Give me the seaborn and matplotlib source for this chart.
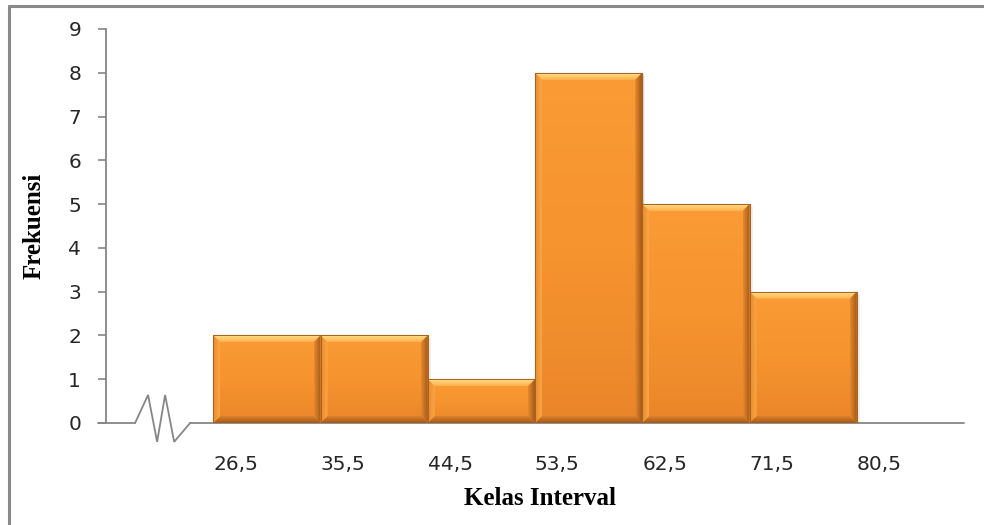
import numpy as np
import matplotlib
matplotlib.use("Agg")
import matplotlib.pyplot as plt
from matplotlib.patches import Polygon, Rectangle
from matplotlib.lines import Line2D
from matplotlib.colors import LinearSegmentedColormap
import seaborn as sns

# Frequency distribution by class interval
class_edges = [26.5, 35.5, 44.5, 53.5, 62.5, 71.5, 80.5]
edge_labels = ["26,5", "35,5", "44,5", "53,5", "62,5", "71,5", "80,5"]
frequencies = [2, 2, 1, 8, 5, 3]
y_ticks = [0, 1, 2, 3, 4, 5, 6, 7, 8, 9]

class_mids = [(a + b) / 2 for a, b in zip(class_edges[:-1], class_edges[1:])]

sns.set_theme(style="white")
plt.rcParams["font.family"] = ["DejaVu Sans"]

W, H = 984, 525
fig = plt.figure(figsize=(W / 100, H / 100), dpi=100)
ax_left, ax_right, ax_top, ax_bottom = 106, 964, 29, 423
ax = fig.add_axes([ax_left / W, 1 - ax_bottom / H,
                   (ax_right - ax_left) / W, (ax_bottom - ax_top) / H])

sns.histplot(x=class_mids, weights=frequencies, bins=class_edges,
             color="#F7952F", alpha=1, edgecolor="#A35C1B", linewidth=0.8,
             ax=ax, zorder=3)

width = class_edges[1] - class_edges[0]
xlim = (class_edges[0] - width, class_edges[-1] + width)
ylim = (y_ticks[0], y_ticks[-1])

# pixel scale for bevel sizes
sx = (ax_right - ax_left) / (xlim[1] - xlim[0])
sy = (ax_bottom - ax_top) / (ylim[1] - ylim[0])
bev = 7.0
bx, by = bev / sx, bev / sy

face_cmap = LinearSegmentedColormap.from_list("face", ["#EA862A", "#F6942F", "#FA9B35"])
grad = np.linspace(0, 1, 64).reshape(-1, 1)


def shaded(pts, extent, c_outer, c_inner, direction):
    """Fill a bevel polygon with a gradient from its outer edge to the face."""
    clip = Polygon(pts, closed=True, facecolor="none", edgecolor="none", zorder=3.4)
    ax.add_patch(clip)
    cm = LinearSegmentedColormap.from_list("bev", [c_outer, c_inner])
    t = np.linspace(0, 1, 32)
    if direction == "down":      # outer edge at top
        arr, origin = t.reshape(-1, 1), "upper"
    elif direction == "up":      # outer edge at bottom
        arr, origin = t.reshape(-1, 1), "lower"
    elif direction == "right":   # outer edge at left
        arr, origin = t.reshape(1, -1), "lower"
    else:                        # outer edge at right
        arr, origin = t[::-1].reshape(1, -1), "lower"
    im = ax.imshow(arr, extent=extent, origin=origin, aspect="auto", cmap=cm,
                   vmin=0, vmax=1, zorder=3.4, interpolation="bilinear")
    im.set_clip_path(clip)


for p in list(ax.patches):
    x0, w, h = p.get_x(), p.get_width(), p.get_height()
    x1 = x0 + w
    # soft drop shadow
    for k, a in [(1.5, 0.10), (3.0, 0.06)]:
        ax.add_patch(Rectangle((x0 + k / sx, -k / sy), w, h, facecolor="#000000",
                               alpha=a, edgecolor="none", zorder=2))
    img = ax.imshow(grad, extent=[x0, x1, 0, h], origin="lower", aspect="auto",
                    cmap=face_cmap, zorder=3.2, interpolation="bilinear")
    img.set_clip_path(p)
    shaded([(x0, h), (x1, h), (x1 - bx, h - by), (x0 + bx, h - by)],
           [x0, x1, h - by, h], "#FFDD88", "#FCB24E", "down")
    shaded([(x0, 0), (x1, 0), (x1 - bx, by), (x0 + bx, by)],
           [x0, x1, 0, by], "#A35A1A", "#DC8029", "up")
    shaded([(x0, 0), (x0, h), (x0 + bx, h - by), (x0 + bx, by)],
           [x0, x0 + bx, 0, h], "#E88A2E", "#FBA645", "right")
    shaded([(x1, 0), (x1, h), (x1 - bx, h - by), (x1 - bx, by)],
           [x1 - bx, x1, 0, h], "#A35B1B", "#E6882C", "left")
    ax.add_patch(Rectangle((x0, 0), w, h, facecolor="none", edgecolor="#A86320",
                           linewidth=0.7, zorder=3.6))

ax.set_xlim(*xlim)
ax.set_ylim(*ylim)

# axis break on the horizontal axis
axis_grey = "#868686"
break_x = [19.94, 21.03, 21.79, 22.46, 23.22, 24.56]
break_y = [0, 0.64, -0.43, 0.64, -0.43, 0]
ax.plot(break_x, break_y, color=axis_grey, lw=1.3, clip_on=False, zorder=1,
        solid_joinstyle="miter")
ax.plot([xlim[0] - 8 / sx, break_x[0]], [0, 0], color=axis_grey, lw=1.3,
        clip_on=False, zorder=1)
ax.plot([break_x[-1], xlim[1]], [0, 0], color=axis_grey, lw=1.3,
        clip_on=False, zorder=1)

for s in ["top", "right", "bottom"]:
    ax.spines[s].set_visible(False)
ax.spines["left"].set_color(axis_grey)
ax.spines["left"].set_linewidth(1.3)

ax.set_yticks(y_ticks)
ax.set_yticklabels([str(v) for v in y_ticks])
ax.tick_params(axis="y", left=True, length=6, width=1.2, color=axis_grey,
               direction="out", pad=12, labelsize=14.5, labelcolor="#262626")
ax.set_xticks(class_edges)
ax.set_xticklabels(edge_labels)
ax.tick_params(axis="x", bottom=False, length=0, pad=23, labelsize=14.5,
               labelcolor="#262626")
for lbl in ax.get_xticklabels():
    lbl.set_horizontalalignment("left")

ax.set_ylabel("Frekuensi", fontfamily="Liberation Serif", fontweight="bold",
              fontsize=18, color="#000000")
ax.yaxis.set_label_coords(-0.071, 0.5)
ax.set_xlabel("Kelas Interval", fontfamily="Liberation Serif", fontweight="bold",
              fontsize=18, color="#000000")
ax.xaxis.set_label_coords(0.506, -0.163)

# chart frame
frame_col = "#8A8A8A"
fig.add_artist(Line2D([9 / W, 9 / W], [0, 1 - 6 / H], transform=fig.transFigure,
                      color=frame_col, lw=2.2))
fig.add_artist(Line2D([9 / W, 1], [1 - 6 / H, 1 - 6 / H], transform=fig.transFigure,
                      color=frame_col, lw=2.2))

fig.savefig("out.png", dpi=100, facecolor="white")
